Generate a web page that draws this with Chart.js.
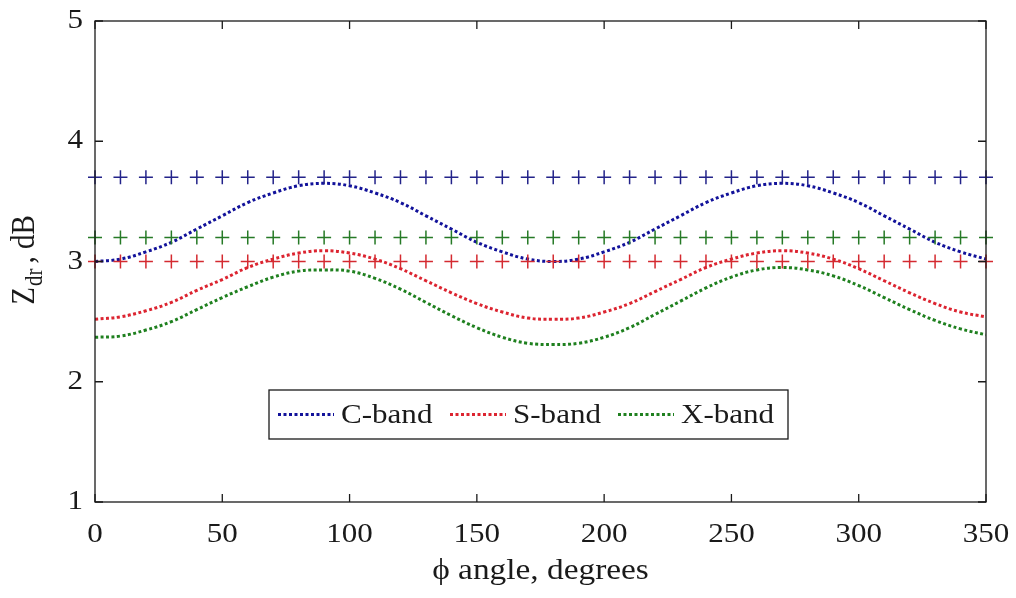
<!DOCTYPE html>
<html>
<head>
<meta charset="utf-8">
<script src="https://cdn.jsdelivr.net/npm/chart.js@4.4.1/dist/chart.umd.min.js"></script>
<style>
  html, body { margin: 0; background: #fff; }
</style>
</head>
<body>
<canvas id="zdrChart" width="1016" height="598"></canvas>
<script>
// phi angle, degrees
const angles = [0, 10, 20, 30, 40, 50, 60, 70, 80, 90, 100, 110, 120, 130, 140, 150, 160, 170,
                180, 190, 200, 210, 220, 230, 240, 250, 260, 270, 280, 290, 300, 310, 320, 330, 340, 350];

// Zdr curves (dotted)
const cBand = [3.00, 3.02, 3.08, 3.16, 3.27, 3.38, 3.49, 3.57, 3.63, 3.65, 3.63, 3.57, 3.49, 3.38, 3.27, 3.16, 3.08, 3.02,
               3.00, 3.02, 3.08, 3.16, 3.27, 3.38, 3.49, 3.57, 3.63, 3.65, 3.63, 3.57, 3.49, 3.38, 3.27, 3.16, 3.08, 3.02];
const sBand = [2.52, 2.54, 2.59, 2.66, 2.76, 2.85, 2.95, 3.02, 3.07, 3.09, 3.07, 3.02, 2.94, 2.84, 2.74, 2.65, 2.58, 2.53,
               2.52, 2.53, 2.58, 2.65, 2.75, 2.85, 2.95, 3.02, 3.07, 3.09, 3.07, 3.02, 2.94, 2.84, 2.74, 2.65, 2.58, 2.54];
const xBand = [2.37, 2.38, 2.43, 2.50, 2.60, 2.70, 2.79, 2.87, 2.92, 2.93, 2.92, 2.86, 2.77, 2.66, 2.55, 2.45, 2.37, 2.32,
               2.31, 2.32, 2.37, 2.45, 2.56, 2.67, 2.78, 2.87, 2.93, 2.95, 2.93, 2.88, 2.80, 2.70, 2.60, 2.51, 2.44, 2.39];

// constant reference levels (plus markers)
const cBandRef = angles.map(() => 3.7);
const xBandRef = angles.map(() => 3.2);
const sBandRef = angles.map(() => 3.0);

const xTicks = [0, 50, 100, 150, 200, 250, 300, 350];
const yTicks = [1, 2, 3, 4, 5];

const seriesNames = ['C-band', 'S-band', 'X-band'];
const dotColors = ['#12129a', '#dc2430', '#1f801f'];
const crossColors = ['#23238a', '#d42a30', '#267a26'];

const FONT = '"Liberation Serif", "Times New Roman", serif';
const STRETCH = 1.15;

function pts(ys) {
  return angles.map((a, i) => ({ x: a, y: ys[i] }));
}

function wideText(ctx, text, x, y, align, size) {
  ctx.save();
  ctx.translate(x, y);
  ctx.scale(STRETCH, 1);
  ctx.font = size + 'px ' + FONT;
  ctx.textAlign = align;
  ctx.textBaseline = 'middle';
  ctx.fillStyle = '#1a1a1a';
  ctx.fillText(text, 0, 0);
  ctx.restore();
}

const frame = {
  id: 'frame',
  afterDraw(chart) {
    const ctx = chart.ctx;
    const a = chart.chartArea;
    const xs = chart.scales.x, ys = chart.scales.y;
    ctx.save();
    ctx.strokeStyle = '#1a1a1a';
    ctx.lineWidth = 1.3;
    ctx.strokeRect(a.left, a.top, a.right - a.left, a.bottom - a.top);
    ctx.beginPath();
    xTicks.forEach(v => {
      const px = xs.getPixelForValue(v);
      ctx.moveTo(px, a.bottom); ctx.lineTo(px, a.bottom - 8);
      ctx.moveTo(px, a.top); ctx.lineTo(px, a.top + 8);
      wideText(ctx, String(v), px, a.bottom + 33, 'center', 27);
    });
    yTicks.forEach(v => {
      const py = ys.getPixelForValue(v);
      ctx.moveTo(a.left, py); ctx.lineTo(a.left + 8, py);
      ctx.moveTo(a.right, py); ctx.lineTo(a.right - 8, py);
      wideText(ctx, String(v), a.left - 12, py, 'right', 27);
    });
    ctx.stroke();

    // axis titles
    wideText(ctx, '\u03d5 angle, degrees', (a.left + a.right) / 2, 571, 'center', 29);

    ctx.save();
    ctx.translate(34, 260);
    ctx.rotate(-Math.PI / 2);
    ctx.scale(1, STRETCH);
    ctx.fillStyle = '#1a1a1a';
    ctx.textBaseline = 'alphabetic';
    ctx.textAlign = 'left';
    const big = '29px ' + FONT, small = '21px ' + FONT;
    ctx.font = big; const wZ = ctx.measureText('Z').width;
    ctx.font = small; const wSub = ctx.measureText('dr').width;
    ctx.font = big; const wRest = ctx.measureText(', dB').width;
    const gap = 6;
    let x0 = -(wZ + wSub + gap + wRest) / 2;
    ctx.font = big; ctx.fillText('Z', x0, 0);
    ctx.font = small; ctx.fillText('dr', x0 + wZ + 1, 7);
    ctx.font = big; ctx.fillText(', dB', x0 + wZ + wSub + gap, 0);
    ctx.restore();

    // legend box
    const lx = 269, ly = 390, lw = 519, lh = 49;
    ctx.fillStyle = '#fff';
    ctx.fillRect(lx, ly, lw, lh);
    ctx.lineWidth = 1.3;
    ctx.strokeRect(lx, ly, lw, lh);
    const sampleX = [278, 450, 618];
    const my = ly + lh / 2;
    seriesNames.forEach((name, i) => {
      ctx.save();
      ctx.strokeStyle = dotColors[i];
      ctx.lineWidth = 3;
      ctx.setLineDash([3, 2.5]);
      ctx.beginPath();
      ctx.moveTo(sampleX[i], my);
      ctx.lineTo(sampleX[i] + 56, my);
      ctx.stroke();
      ctx.restore();
      wideText(ctx, name, sampleX[i] + 63, my + 1, 'left', 27);
    });
    ctx.restore();
  }
};

const curve = (i, ys) => ({
  label: seriesNames[i],
  data: pts(ys),
  showLine: true,
  borderColor: dotColors[i],
  borderWidth: 3,
  borderDash: [3, 2.5],
  pointRadius: 0,
  tension: 0.4,
  fill: false,
  order: 2
});

const crosses = (i, ys) => ({
  label: seriesNames[i] + ' ref',
  data: pts(ys),
  showLine: false,
  clip: false,
  pointStyle: 'cross',
  pointRadius: 7,
  pointBorderWidth: 1.5,
  pointBorderColor: crossColors[i],
  pointBackgroundColor: crossColors[i],
  order: 1
});

new Chart(document.getElementById('zdrChart'), {
  type: 'scatter',
  data: {
    datasets: [
      crosses(0, cBandRef),
      crosses(2, xBandRef),
      crosses(1, sBandRef),
      curve(0, cBand),
      curve(1, sBand),
      curve(2, xBand)
    ]
  },
  options: {
    responsive: false,
    animation: false,
    layout: { padding: { top: 21, right: 30, left: 0, bottom: 0 } },
    plugins: {
      legend: { display: false },
      tooltip: { enabled: false }
    },
    scales: {
      x: {
        type: 'linear',
        min: 0,
        max: 350,
        ticks: { display: false, stepSize: 50 },
        grid: { display: false },
        border: { display: false },
        afterFit: s => { s.height = 96; }
      },
      y: {
        min: 1,
        max: 5,
        ticks: { display: false, stepSize: 1 },
        grid: { display: false },
        border: { display: false },
        afterFit: s => { s.width = 95; }
      }
    }
  },
  plugins: [frame]
});
</script>
</body>
</html>
